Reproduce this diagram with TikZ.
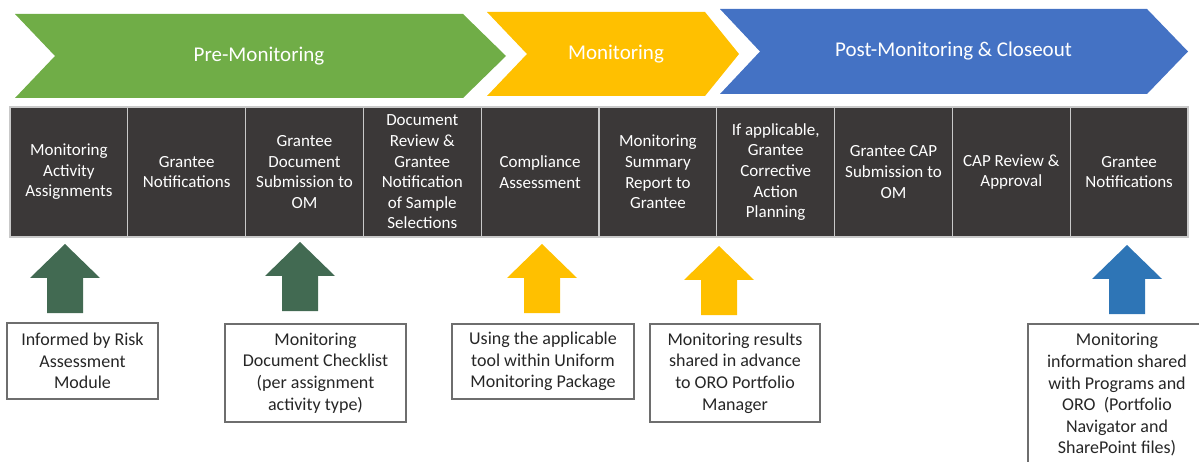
\documentclass[tikz,border=0pt]{standalone}
\usepackage{fontspec}
\setmainfont{Carlito}
\usepackage{tikz}
\definecolor{chgreen}{HTML}{70AD47}
\definecolor{chyellow}{HTML}{FFC000}
\definecolor{chblue}{HTML}{4472C4}
\definecolor{stepgray}{HTML}{3B3838}
\definecolor{divgray}{HTML}{C9C9C9}
\definecolor{arrgreen}{HTML}{426A52}
\definecolor{arrblue}{HTML}{2E75B6}
\definecolor{notegray}{HTML}{6E6E6E}
\tikzset{
  phase/.style={text=white,font=\fontsize{21}{25}\selectfont},
  stepbox/.style={fill=stepgray,draw=divgray,line width=1.2pt,minimum width=117.8pt,minimum height=130pt,inner sep=0pt,align=center,text=white,font=\fontsize{17}{20.6}\selectfont},
  notebox/.style={draw=notegray,line width=1.3pt,inner sep=0pt,align=center,text=black!85,font=\fontsize{18}{21.6}\selectfont}
}
\begin{document}
\begin{tikzpicture}[x=1pt,y=-1pt]
\useasboundingbox (0,0) rectangle (1199,462);
\clip (0,0) rectangle (1199,462);
% phases
\foreach \l/\n/\r/\p/\t/\b/\c/\s [count=\i] in {15/55/463/506/14/98/chgreen/Pre-Monitoring,487/527/705/739/12/96/chyellow/Monitoring,720/760/1147/1188/9/94/chblue/Post-Monitoring \& Closeout}{
\fill[\c] (\l,\t) -- (\r,\t) -- (\p,{(\t+\b)/2}) -- (\r,\b) -- (\l,\b) -- (\n,{(\t+\b)/2}) -- cycle;
\node[phase] (phase\i) at ({(\n+\r)/2},{(\t+\b)/2}) {\s};}
% steps
\foreach \t [count=\i] in {{Monitoring\\Activity\\Assignments},{Grantee\\Notifications},{Grantee\\Document\\Submission to\\OM},{Document\\Review \&\\Grantee\\Notification\\of Sample\\Selections},{Compliance\\Assessment},{Monitoring\\Summary\\Report to\\Grantee},{If applicable,\\Grantee\\Corrective\\Action\\Planning},{Grantee CAP\\Submission to\\OM},{CAP Review \&\\Approval},{Grantee\\Notifications}}
  \node[stepbox] (step\i) at ({10+117.8*(\i-0.5)},172) {\t};
% block arrows
\foreach \x/\y/\c in {65/244/arrgreen,300/242/arrgreen,542/244/chyellow,719/246/chyellow,1127/245/arrblue}
  \fill[\c] (\x-18,\y+69) -- (\x-18,\y+34) -- (\x-35,\y+34) -- (\x,\y) -- (\x+35,\y+34) -- (\x+18,\y+34) -- (\x+18,\y+69) -- cycle;
% notes
\foreach \x/\y/\w/\h/\t [count=\i] in {82.5/361/151/76/Informed by Risk\\Assessment\\Module,315.5/373/181/98/Monitoring\\Document Checklist\\(per assignment\\activity type),543/361.5/182/75/Using the applicable\\tool within Uniform\\Monitoring Package,735/373/170/98/Monitoring results\\shared in advance\\to ORO Portfolio\\Manager,1117/395/178/142/Monitoring\\information shared\\with Programs and\\ORO\ \ (Portfolio\\Navigator and\\SharePoint files)}
  \node[notebox,minimum width=\w pt,minimum height=\h pt] (note\i) at (\x,\y) {\t};
\end{tikzpicture}
\end{document}
